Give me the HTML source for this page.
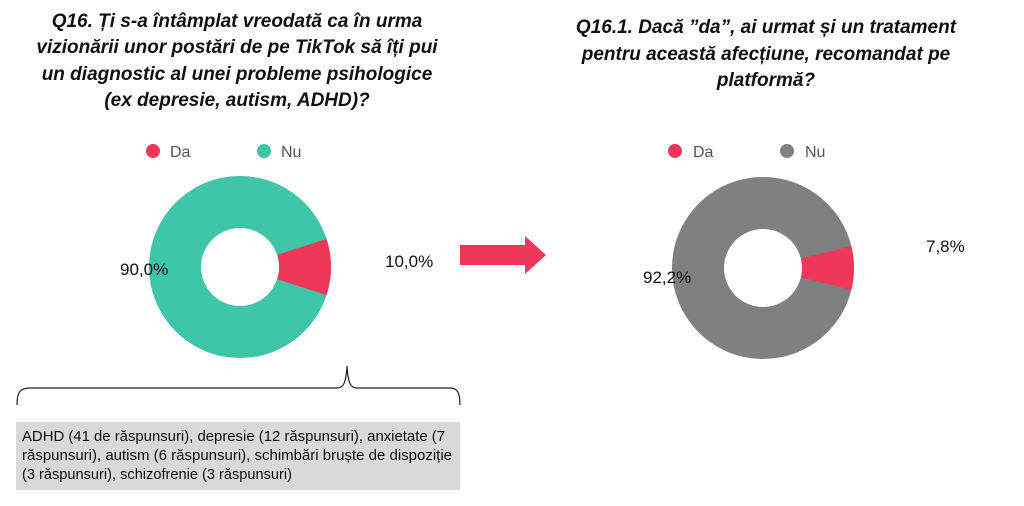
<!DOCTYPE html>
<html><head><meta charset="utf-8"><style>
body{margin:0;width:1024px;height:501px;background:#fff;overflow:hidden;font-family:"Liberation Sans",sans-serif;}
</style></head><body>
<svg width="1024" height="501" viewBox="0 0 1024 501" xmlns="http://www.w3.org/2000/svg">
<g font-family="Liberation Sans, sans-serif" font-weight="bold" font-style="italic" font-size="19" fill="#111" text-anchor="middle">
<text x="237" y="27">Q16. Ți s-a întâmplat vreodată ca în urma</text>
<text x="237" y="53">vizionării unor postări de pe TikTok să îți pui</text>
<text x="237" y="80">un diagnostic al unei probleme psihologice</text>
<text x="237" y="106">(ex depresie, autism, ADHD)?</text>
<text x="766" y="33">Q16.1. Dacă ”da”, ai urmat și un tratament</text>
<text x="766" y="60">pentru această afecțiune, recomandat pe</text>
<text x="766" y="86">platformă?</text>
</g>
<g font-size="16" fill="#555">
<circle cx="153" cy="151" r="7" fill="#F0375A"/><text x="170" y="157">Da</text>
<circle cx="264" cy="151" r="7" fill="#40C5A8"/><text x="281" y="157">Nu</text>
<circle cx="675" cy="151" r="7" fill="#F0375A"/><text x="693" y="157">Da</text>
<circle cx="787" cy="151" r="7" fill="#808080"/><text x="805" y="157">Nu</text>
</g>
<circle cx="240" cy="267" r="91" fill="#40C5A8"/>
<path d="M326.5,238.9 A91,91 0 0 1 326.5,295.1 L277.1,279.1 A39,39 0 0 0 277.1,254.9 Z" fill="#F0375A"/>
<circle cx="240" cy="267" r="39" fill="#fff"/>
<circle cx="763" cy="268" r="91" fill="#808080"/>
<path d="M851.3,246 A91,91 0 0 1 851.3,290 L800.8,277.4 A39,39 0 0 0 800.8,258.6 Z" fill="#F0375A"/>
<circle cx="763" cy="268" r="39" fill="#fff"/>
<g font-size="17" fill="#111">
<text x="120" y="275">90,0%</text>
<text x="385" y="267">10,0%</text>
<text x="643" y="283">92,2%</text>
<text x="926" y="252">7,8%</text>
</g>
<path d="M460,245 H525 V236 L546,255 L525,274 V265 H460 Z" fill="#F0375A"/>
<path d="M17,405 C17,392 20,388 30,388 H337 C343,388 346,384 347,366 C348,384 351,388 357,388 H450 C457,388 460,392 460,405" fill="none" stroke="#222" stroke-width="1.2"/>
<rect x="16" y="422" width="444" height="68" fill="#D9D9D9"/>
<g font-size="14.5" fill="#111">
<text x="22" y="441" textLength="423" lengthAdjust="spacingAndGlyphs">ADHD (41 de răspunsuri), depresie (12 răspunsuri), anxietate (7</text>
<text x="22" y="460" textLength="430" lengthAdjust="spacingAndGlyphs">răspunsuri), autism (6 răspunsuri), schimbări bruște de dispoziție</text>
<text x="22" y="479" textLength="270" lengthAdjust="spacingAndGlyphs">(3 răspunsuri), schizofrenie (3 răspunsuri)</text>
</g>
</svg>
</body></html>
